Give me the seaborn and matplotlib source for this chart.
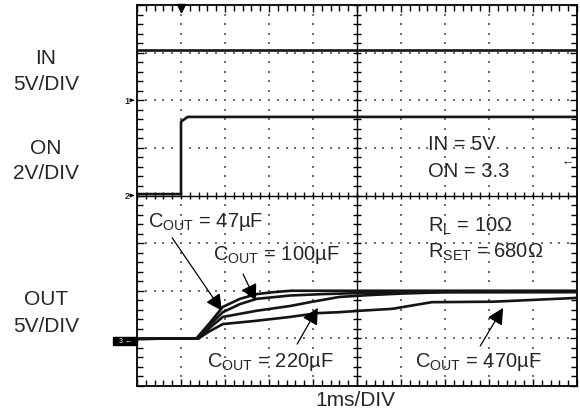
import numpy as np
import pandas as pd
import matplotlib
matplotlib.use("Agg")
import matplotlib.pyplot as plt
from matplotlib.patches import Rectangle
import seaborn as sns

# ─── DATA (scope divisions: x = time div, y = vertical div) ─────────────────
t_in = [0.0, 10.0]
v_in = [7.06, 7.06]

t_on = [0.0, 1.0, 1.0, 1.15, 10.0]
v_on = [4.03, 4.03, 5.55, 5.65, 5.65]

t_47 = [0.0, 1.35, 1.65, 1.95, 2.34, 2.72, 3.1, 3.5, 10.0]
v_47 = [0.99, 1.0, 1.32, 1.66, 1.83, 1.93, 1.97, 2.0, 2.0]

t_100 = [0.0, 1.4, 1.65, 1.95, 2.34, 2.72, 3.48, 4.23, 5.0, 6.0, 10.0]
v_100 = [0.99, 1.0, 1.28, 1.55, 1.72, 1.83, 1.9, 1.93, 1.95, 1.97, 1.98]

t_220 = [0.0, 1.4, 1.65, 1.95, 2.72, 3.48, 3.93, 4.6, 5.3, 6.0, 7.0, 10.0]
v_220 = [0.99, 1.0, 1.22, 1.45, 1.58, 1.68, 1.76, 1.87, 1.91, 1.94, 1.97, 1.97]

t_470 = [0.0, 1.4, 1.65, 1.95, 2.72, 3.48, 4.1, 4.6, 5.07, 5.8, 6.7, 8.1, 10.0]
v_470 = [0.99, 1.0, 1.15, 1.30, 1.37, 1.45, 1.53, 1.55, 1.58, 1.62, 1.76, 1.77, 1.85]

channel_labels = [("IN", "5V/DIV", 59), ("ON", "2V/DIV", 148), ("OUT", "5V/DIV", 300)]
cout_labels = ["47µF", "100µF", "220µF", "470µF"]

N_XDIV, N_YDIV = 10, 8

# ─── STYLE ──────────────────────────────────────────────────────────────────
sns.set_style("white")
plt.rcParams["font.family"] = ["Liberation Sans", "DejaVu Sans"]
plt.rcParams["mathtext.fontset"] = "custom"
plt.rcParams["mathtext.rm"] = "Liberation Sans"
plt.rcParams["mathtext.it"] = "Liberation Sans"

W, H = 580, 414
fig = plt.figure(figsize=(W / 100, H / 100), dpi=100)
ax = fig.add_axes([137 / W, 27 / H, 440 / W, 381 / H])
ax.set_xlim(0, N_XDIV)
ax.set_ylim(0, N_YDIV)

# grid dots
minor_x = np.arange(0, N_XDIV + 0.01, 0.2)
minor_y = np.arange(0, N_YDIV + 0.01, 0.2)
gx = [x for x in range(1, N_XDIV) if x != 5]
gy = [y for y in range(1, N_YDIV) if y != 4]
dx, dy = np.meshgrid(gx, minor_y)
ax.scatter(dx.ravel(), dy.ravel(), s=3, marker="s", color="#6e6e6e", lw=0, zorder=1)
dx, dy = np.meshgrid(minor_x, gy)
ax.scatter(dx.ravel(), dy.ravel(), s=3, marker="s", color="#6e6e6e", lw=0, zorder=1)

# centre rails
ax.axvline(5, color="black", lw=1.0, zorder=2)
ax.axhline(4, color="black", lw=1.0, zorder=2)
ax.vlines(minor_x, 4 - 0.08, 4 + 0.08, color="black", lw=1.0, zorder=2)
ax.hlines(minor_y, 5 - 0.09, 5 + 0.09, color="black", lw=1.0, zorder=2)

# border ticks
ax.set_xticks(range(N_XDIV + 1))
ax.set_yticks(range(N_YDIV + 1))
ax.set_xticks(minor_x, minor=True)
ax.set_yticks(minor_y, minor=True)
ax.tick_params(which="both", direction="in", top=True, right=True, bottom=True, left=True,
               labelbottom=False, labelleft=False, color="black", width=1.0)
ax.tick_params(which="major", length=5)
ax.tick_params(which="minor", length=4)
for s in ax.spines.values():
    s.set_color("black")
    s.set_linewidth(1.3)

# ─── TRACES ─────────────────────────────────────────────────────────────────
traces = [(t_in, v_in), (t_on, v_on), (t_470, v_470), (t_220, v_220), (t_100, v_100), (t_47, v_47)]
for t, v in traces:
    df = pd.DataFrame({"t": t, "v": v})
    sns.lineplot(data=df, x="t", y="v", estimator=None, sort=False, color="#141414",
                 lw=1.9, ax=ax, zorder=3)
ax.set_xlabel("")
ax.set_ylabel("")

# ─── MARKERS ────────────────────────────────────────────────────────────────
ax.plot([1.0], [7.93], marker="v", ms=6, color="black", clip_on=False, zorder=4)
ax.text(-0.16, 6.0, "1", fontsize=6.5, fontweight="bold", ha="right", va="center")
ax.annotate("", xy=(0, 6.0), xytext=(-0.17, 6.0), annotation_clip=False,
            arrowprops=dict(arrowstyle="-|>", lw=0.8, color="black", mutation_scale=5))
ax.text(-0.16, 4.0, "2", fontsize=6.5, fontweight="bold", ha="right", va="center")
ax.annotate("", xy=(0, 4.0), xytext=(-0.17, 4.0), annotation_clip=False,
            arrowprops=dict(arrowstyle="-|>", lw=0.8, color="black", mutation_scale=5))
ax.add_patch(Rectangle((-0.55, 0.86), 0.55, 0.17, color="black", clip_on=False, zorder=4))
ax.text(-0.27, 0.945, "3 ←", fontsize=5, color="white", ha="center", va="center", zorder=5)
ax.text(9.8, 4.71, "←", fontsize=9, ha="center", va="center")

# ─── ANNOTATIONS ────────────────────────────────────────────────────────────
fs = 14.5
ax.text(6.61, 4.98, "IN = 5V", fontsize=fs, va="baseline")
ax.text(6.61, 4.41, "ON = 3.3", fontsize=fs, va="baseline")
ax.text(6.61, 3.26, r"R$_{\mathrm{L}}$ = 10Ω", fontsize=fs, va="baseline")
ax.text(6.61, 2.71, r"R$_{\mathrm{SET}}$ = 680Ω", fontsize=fs, va="baseline")

arrow_kw = dict(arrowstyle="-|>,head_length=0.55,head_width=0.28", lw=0.9,
                color="black", mutation_scale=18, shrinkA=0, shrinkB=0)
# (text pos, arrow tail, arrow tip)
ann = [
    ((0.25, 3.36), (0.80, 3.11), (1.93, 1.58)),
    ((1.73, 2.67), (2.41, 2.35), (2.70, 1.79)),
    ((1.59, 0.42), (3.64, 0.88), (4.11, 1.64)),
    ((6.32, 0.42), (7.80, 0.84), (8.32, 1.64)),
]
for lab, (tp, tail, tip) in zip(cout_labels, ann):
    ax.text(tp[0], tp[1], r"C$_{\mathrm{OUT}}$ = " + lab, fontsize=fs, va="baseline", zorder=6)
    ax.annotate("", xy=tip, xytext=tail, arrowprops=arrow_kw, zorder=6)

# left channel labels and time base
for top, bot, yc in channel_labels:
    fig.text(46 / W, 1 - yc / H, top, fontsize=15, ha="center", va="center")
    fig.text(46 / W, 1 - (yc + 26) / H, bot, fontsize=15, ha="center", va="center")
fig.text(355 / W, 1 - 401 / H, "1ms/DIV", fontsize=15, ha="center", va="center")

fig.savefig("out.png", dpi=100)
